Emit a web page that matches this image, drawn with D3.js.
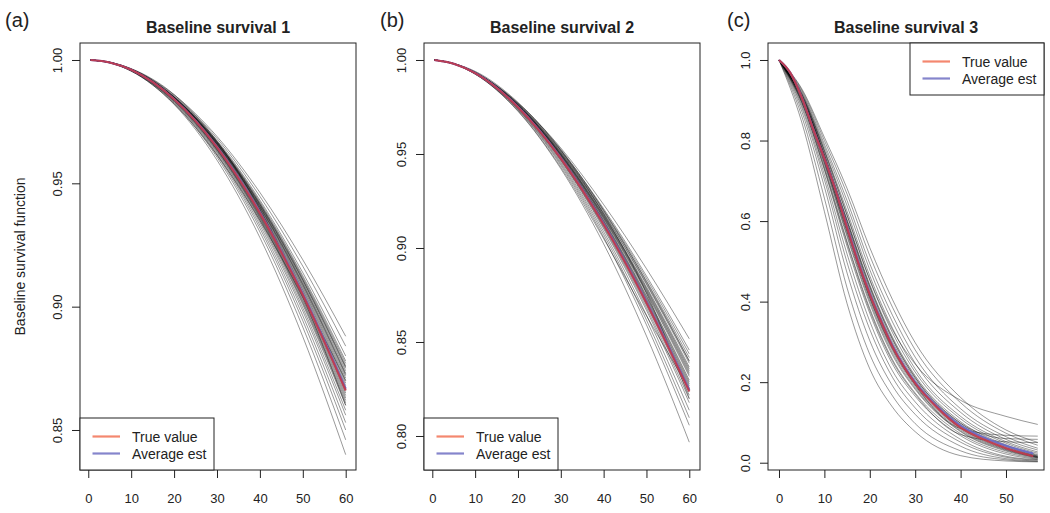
<!DOCTYPE html>
<html><head><meta charset="utf-8">
<script src="https://cdn.jsdelivr.net/npm/d3@7"></script>
<style>
body{margin:0;background:#fff;}
svg{display:block;font-family:"Liberation Sans",Arial,Helvetica,sans-serif;}
</style>
</head><body>
<svg id="chart" width="1050" height="513"></svg>
<script>
// ---------------- DATA ----------------
const panelLabels = ["(a)", "(b)", "(c)"];
const panelTitles = ["Baseline survival 1", "Baseline survival 2", "Baseline survival 3"];
const yAxisTitle = "Baseline survival function";
const legendLabels = ["True value", "Average est"];

const xTicksA = [0, 10, 20, 30, 40, 50, 60];
const yTicksA = [0.85, 0.90, 0.95, 1.00];
const xTicksB = [0, 10, 20, 30, 40, 50, 60];
const yTicksB = [0.80, 0.85, 0.90, 0.95, 1.00];
const xTicksC = [0, 10, 20, 30, 40, 50];
const yTicksC = [0.0, 0.2, 0.4, 0.6, 0.8, 1.0];

// Panel (a)
const timesA = [0.5, 5, 10, 20, 30, 40, 50, 60];
const trueA = [1.0000, 0.9990, 0.9960, 0.9841, 0.9646, 0.9379, 0.9047, 0.8660];
const avgA  = [1.0000, 0.9990, 0.9960, 0.9842, 0.9648, 0.9383, 0.9052, 0.8667];
const estA = [
  [1,0.9991,0.9964,0.9859,0.9690,0.9463,0.9190,0.8880],
  [1,0.9991,0.9964,0.9855,0.9682,0.9447,0.9164,0.8840],
  [1,0.9990,0.9963,0.9852,0.9674,0.9432,0.9138,0.8800],
  [1,0.9990,0.9962,0.9851,0.9670,0.9425,0.9125,0.8780],
  [1,0.9990,0.9962,0.9849,0.9668,0.9420,0.9118,0.8770],
  [1,0.9990,0.9962,0.9849,0.9666,0.9417,0.9112,0.8760],
  [1,0.9990,0.9962,0.9848,0.9665,0.9414,0.9108,0.8755],
  [1,0.9990,0.9962,0.9848,0.9664,0.9413,0.9106,0.8750],
  [1,0.9990,0.9962,0.9847,0.9662,0.9409,0.9099,0.8740],
  [1,0.9990,0.9961,0.9847,0.9660,0.9406,0.9093,0.8730],
  [1,0.9990,0.9961,0.9846,0.9659,0.9404,0.9090,0.8725],
  [1,0.9990,0.9961,0.9846,0.9658,0.9402,0.9086,0.8720],
  [1,0.9990,0.9961,0.9845,0.9656,0.9398,0.9080,0.8710],
  [1,0.9990,0.9961,0.9844,0.9654,0.9394,0.9073,0.8700],
  [1,0.9990,0.9961,0.9843,0.9652,0.9390,0.9067,0.8690],
  [1,0.9990,0.9960,0.9843,0.9650,0.9387,0.9060,0.8680],
  [1,0.9990,0.9960,0.9842,0.9648,0.9383,0.9054,0.8670],
  [1,0.9990,0.9960,0.9841,0.9646,0.9379,0.9047,0.8660],
  [1,0.9990,0.9960,0.9840,0.9644,0.9375,0.9041,0.8650],
  [1,0.9990,0.9960,0.9839,0.9642,0.9371,0.9034,0.8640],
  [1,0.9990,0.9959,0.9839,0.9640,0.9368,0.9028,0.8630],
  [1,0.9990,0.9959,0.9838,0.9638,0.9364,0.9021,0.8620],
  [1,0.9990,0.9959,0.9837,0.9636,0.9360,0.9015,0.8610],
  [1,0.9990,0.9959,0.9836,0.9634,0.9356,0.9008,0.8600],
  [1,0.9989,0.9958,0.9835,0.9630,0.9349,0.8995,0.8580],
  [1,0.9989,0.9958,0.9833,0.9626,0.9341,0.8982,0.8560],
  [1,0.9989,0.9957,0.9831,0.9620,0.9330,0.8963,0.8530],
  [1,0.9989,0.9957,0.9828,0.9614,0.9318,0.8943,0.8500],
  [1,0.9989,0.9956,0.9825,0.9606,0.9303,0.8917,0.8460],
  [1,0.9988,0.9955,0.9820,0.9594,0.9280,0.8878,0.8400],
  [1,0.9989,0.9955,0.9822,0.9615,0.9350,0.9040,0.8700],
  [1,0.9991,0.9965,0.9860,0.9670,0.9395,0.9040,0.8600]
];

// Panel (b)
const timesB = [0.5, 5, 10, 20, 30, 40, 50, 60];
const trueB = [1.0000, 0.9980, 0.9930, 0.9749, 0.9476, 0.9125, 0.8708, 0.8237];
const avgB  = [1.0000, 0.9980, 0.9931, 0.9751, 0.9479, 0.9130, 0.8714, 0.8245];
const estB = [
  [1,0.9981,0.9936,0.9771,0.9532,0.9231,0.8890,0.8517],
  [1,0.9981,0.9934,0.9767,0.9520,0.9209,0.8851,0.8457],
  [1,0.9981,0.9934,0.9765,0.9516,0.9201,0.8838,0.8437],
  [1,0.9981,0.9934,0.9763,0.9512,0.9193,0.8825,0.8417],
  [1,0.9980,0.9933,0.9762,0.9508,0.9186,0.8812,0.8397],
  [1,0.9980,0.9933,0.9761,0.9506,0.9182,0.8806,0.8387],
  [1,0.9980,0.9933,0.9759,0.9502,0.9174,0.8793,0.8367],
  [1,0.9980,0.9932,0.9759,0.9500,0.9171,0.8786,0.8357],
  [1,0.9980,0.9932,0.9758,0.9498,0.9167,0.8780,0.8347],
  [1,0.9980,0.9932,0.9757,0.9496,0.9163,0.8773,0.8337],
  [1,0.9980,0.9932,0.9756,0.9494,0.9159,0.8767,0.8327],
  [1,0.9980,0.9932,0.9755,0.9492,0.9155,0.8760,0.8317],
  [1,0.9980,0.9931,0.9754,0.9488,0.9148,0.8747,0.8297],
  [1,0.9980,0.9931,0.9753,0.9486,0.9144,0.8741,0.8287],
  [1,0.9980,0.9931,0.9752,0.9484,0.9140,0.8734,0.8277],
  [1,0.9980,0.9931,0.9752,0.9482,0.9136,0.8727,0.8267],
  [1,0.9980,0.9930,0.9751,0.9480,0.9133,0.8721,0.8257],
  [1,0.9980,0.9931,0.9750,0.9478,0.9129,0.8715,0.8247],
  [1,0.9980,0.9930,0.9749,0.9476,0.9125,0.8708,0.8237],
  [1,0.9980,0.9930,0.9747,0.9472,0.9117,0.8695,0.8217],
  [1,0.9980,0.9929,0.9746,0.9468,0.9110,0.8682,0.8197],
  [1,0.9980,0.9929,0.9744,0.9464,0.9102,0.8669,0.8177],
  [1,0.9979,0.9928,0.9741,0.9456,0.9087,0.8643,0.8137],
  [1,0.9979,0.9927,0.9738,0.9448,0.9072,0.8617,0.8097],
  [1,0.9979,0.9926,0.9735,0.9440,0.9057,0.8591,0.8057],
  [1,0.9979,0.9925,0.9727,0.9422,0.9022,0.8532,0.7967],
  [1,0.9979,0.9925,0.9730,0.9430,0.9050,0.8640,0.8250],
  [1,0.9981,0.9940,0.9775,0.9520,0.9180,0.8760,0.8200],
  [1,0.9981,0.9935,0.9770,0.9525,0.9200,0.8820,0.8400]
];

// Panel (c)
const timesCTrue = [0, 2.5, 5, 7.5, 10, 12.5, 15, 17.5, 20, 22.5, 25, 27.5, 30, 35, 40, 45, 50, 56];
const trueC = [1.000, 0.968, 0.907, 0.829, 0.755, 0.675, 0.583, 0.495, 0.418, 0.350, 0.288, 0.238, 0.197, 0.135, 0.087, 0.058, 0.036, 0.016];
const avgC  = [1.000, 0.968, 0.908, 0.830, 0.756, 0.677, 0.586, 0.498, 0.421, 0.353, 0.291, 0.241, 0.200, 0.138, 0.092, 0.063, 0.042, 0.023];
const timesCEst = [0, 5, 10, 15, 20, 25, 30, 40, 50, 57];
const estC = [
  [1,0.846,0.624,0.395,0.233,0.138,0.077,0.0175,0.0043,0.002],
  [1,0.861,0.657,0.434,0.269,0.166,0.097,0.0295,0.0072,0.003],
  [1,0.873,0.685,0.471,0.303,0.191,0.120,0.041,0.010,0.0043],
  [1,0.882,0.703,0.497,0.331,0.212,0.136,0.051,0.0135,0.0063],
  [1,0.888,0.715,0.518,0.351,0.228,0.151,0.058,0.016,0.0077],
  [1,0.894,0.727,0.537,0.371,0.245,0.165,0.067,0.0215,0.009],
  [1,0.897,0.735,0.549,0.383,0.256,0.173,0.072,0.0254,0.0106],
  [1,0.900,0.742,0.561,0.395,0.267,0.182,0.077,0.029,0.012],
  [1,0.902,0.745,0.566,0.401,0.272,0.185,0.079,0.031,0.0128],
  [1,0.904,0.749,0.572,0.407,0.278,0.189,0.082,0.0326,0.0135],
  [1,0.905,0.752,0.578,0.412,0.283,0.193,0.085,0.034,0.014],
  [1,0.907,0.755,0.583,0.418,0.288,0.197,0.087,0.036,0.0148],
  [1,0.908,0.758,0.588,0.424,0.294,0.202,0.091,0.038,0.0156],
  [1,0.909,0.761,0.594,0.430,0.300,0.207,0.0945,0.0403,0.0164],
  [1,0.910,0.763,0.599,0.436,0.306,0.211,0.098,0.042,0.018],
  [1,0.912,0.766,0.604,0.442,0.312,0.216,0.102,0.0445,0.020],
  [1,0.914,0.772,0.614,0.453,0.323,0.225,0.109,0.0485,0.0234],
  [1,0.916,0.777,0.624,0.464,0.334,0.233,0.115,0.0523,0.0267],
  [1,0.919,0.784,0.638,0.479,0.3495,0.247,0.125,0.0578,0.0315],
  [1,0.922,0.791,0.651,0.494,0.366,0.262,0.134,0.0646,0.036],
  [1,0.926,0.800,0.667,0.514,0.386,0.280,0.149,0.0733,0.0434],
  [1,0.929,0.808,0.681,0.534,0.405,0.298,0.162,0.0813,0.0504],
  [1,0.915,0.775,0.615,0.455,0.330,0.245,0.155,0.115,0.095],
  [1,0.905,0.750,0.575,0.410,0.283,0.193,0.085,0.068,0.066],
  [1,0.895,0.730,0.545,0.378,0.252,0.170,0.070,0.052,0.050],
  [1,0.910,0.765,0.600,0.438,0.308,0.212,0.098,0.060,0.058]
];

// ---------------- LAYOUT ----------------
const panels = [
  { label: panelLabels[0], title: panelTitles[0], labelX: 5,
    box: {left: 80, right: 356, top: 43, bottom: 470},
    xDomain: [-1.93, 62.4], yDomain: [0.83378, 1.00689],
    xTicks: xTicksA, yTicks: yTicksA, yFmt: ".2f",
    estT: timesA, est: estA, trueT: timesA, truth: trueA, avg: avgA,
    legend: "bottomleft", showYTitle: true },
  { label: panelLabels[1], title: panelTitles[1], labelX: 380,
    box: {left: 424, right: 700, top: 43, bottom: 470},
    xDomain: [-1.94, 62.5], yDomain: [0.78191, 1.00904],
    xTicks: xTicksB, yTicks: yTicksB, yFmt: ".2f",
    estT: timesB, est: estB, trueT: timesB, truth: trueB, avg: avgB,
    legend: "bottomleft", showYTitle: false },
  { label: panelLabels[2], title: panelTitles[2], labelX: 727,
    box: {left: 768, right: 1044, top: 43, bottom: 470},
    xDomain: [-2.42, 58.37], yDomain: [-0.0181, 1.0422],
    xTicks: xTicksC, yTicks: yTicksC, yFmt: ".1f",
    estT: timesCEst, est: estC, trueT: timesCTrue, truth: trueC, avg: avgC,
    legend: "topright", showYTitle: false }
];

const svg = d3.select("#chart");
const axisColor = "#222";

function drawPanel(p) {
  const b = p.box;
  const g = svg.append("g");
  const x = d3.scaleLinear().domain(p.xDomain).range([b.left, b.right]);
  const y = d3.scaleLinear().domain(p.yDomain).range([b.bottom, b.top]);
  const mkLine = ts => d3.line().x((d, i) => x(ts[i])).y(d => y(d)).curve(d3.curveMonotoneX);

  const clipId = "clip" + p.label.replace(/\W/g, "");
  svg.append("clipPath").attr("id", clipId).append("rect")
    .attr("x", b.left).attr("y", b.top).attr("width", b.right - b.left).attr("height", b.bottom - b.top);
  const plot = g.append("g").attr("clip-path", `url(#${clipId})`);

  const estLine = mkLine(p.estT);
  plot.selectAll("path.est").data(p.est).enter().append("path")
    .attr("class", "est")
    .attr("d", d => estLine(d))
    .attr("fill", "none").attr("stroke", "#000")
    .attr("stroke-opacity", 0.5).attr("stroke-width", 0.8);

  const tl = mkLine(p.trueT);
  plot.append("path").attr("d", tl(p.avg))
    .attr("fill", "none").attr("stroke", "#6d6dc4").attr("stroke-width", 2.2);
  plot.append("path").attr("d", tl(p.truth))
    .attr("fill", "none").attr("stroke", "#c03a4c").attr("stroke-width", 2.2)
    .attr("stroke-opacity", 0.92);

  // box
  g.append("rect").attr("x", b.left).attr("y", b.top)
    .attr("width", b.right - b.left).attr("height", b.bottom - b.top)
    .attr("fill", "none").attr("stroke", axisColor).attr("stroke-width", 1);

  // x axis
  const xa = g.append("g").attr("transform", `translate(0,${b.bottom})`)
    .call(d3.axisBottom(x).tickValues(p.xTicks).tickSize(8).tickFormat(d3.format("d")));
  xa.select(".domain").remove();
  xa.selectAll("line").attr("stroke", axisColor);
  xa.selectAll("text").attr("y", 33).attr("dy", null)
    .attr("font-size", 13).attr("fill", "#222").attr("font-family", null);

  // y axis
  const ya = g.append("g").attr("transform", `translate(${b.left},0)`)
    .call(d3.axisLeft(y).tickValues(p.yTicks).tickSize(8).tickFormat(d3.format(p.yFmt)));
  ya.select(".domain").remove();
  ya.selectAll("line").attr("stroke", axisColor);
  ya.selectAll("text")
    .attr("transform", "rotate(-90)")
    .attr("x", 0).attr("y", -18).attr("dy", null)
    .attr("text-anchor", "middle")
    .attr("font-size", 13).attr("fill", "#222").attr("font-family", null);

  // title & label
  svg.append("text").attr("x", (b.left + b.right) / 2).attr("y", 33)
    .attr("text-anchor", "middle").attr("font-weight", "bold").attr("font-size", 16)
    .attr("fill", "#222").text(p.title);
  svg.append("text").attr("x", p.labelX).attr("y", 27)
    .attr("font-size", 20).attr("fill", "#222").text(p.label);

  if (p.showYTitle) {
    svg.append("text").attr("transform", `translate(25,${(b.top + b.bottom) / 2}) rotate(-90)`)
      .attr("text-anchor", "middle").attr("font-size", 14).attr("fill", "#222").text(yAxisTitle);
  }

  // legend
  const lw = 134, lh = 54;
  const lx = p.legend === "topright" ? b.right - lw : b.left;
  const ly = p.legend === "topright" ? b.top : b.bottom - lh + 2;
  const lg = svg.append("g");
  lg.append("rect").attr("x", lx).attr("y", ly).attr("width", lw).attr("height", lh - 2)
    .attr("fill", "#fff").attr("stroke", axisColor).attr("stroke-width", 1);
  const legColors = ["#f4876f", "#8585cc"];
  legendLabels.forEach((txt, i) => {
    const cy = ly + 18.5 + i * 17;
    lg.append("line").attr("x1", lx + 12.5).attr("x2", lx + 40).attr("y1", cy).attr("y2", cy)
      .attr("stroke", legColors[i]).attr("stroke-width", 2.2);
    lg.append("text").attr("x", lx + 52).attr("y", cy + 5)
      .attr("font-size", 14).attr("fill", "#222").text(txt);
  });
}

panels.forEach(drawPanel);
</script>
</body></html>
